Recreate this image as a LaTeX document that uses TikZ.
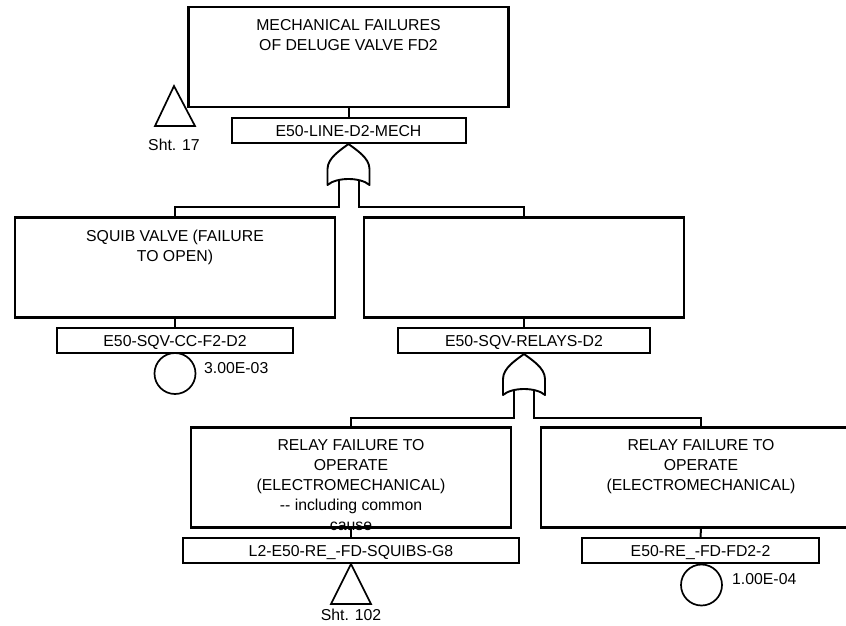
\documentclass[tikz,border=0pt]{standalone}
\usepackage{fontspec}
\setmainfont{Liberation Sans}
\usetikzlibrary{calc}
\begin{document}
\begin{tikzpicture}[x=1pt,y=-1pt,
  evbox/.style={draw,line width=2.2pt,minimum width=320pt,minimum height=100pt,inner sep=0pt},
  lbl/.style={draw,line width=2pt,minimum height=25pt,inner sep=0pt,text height=11.3pt,text depth=0pt,font=\fontsize{15.8}{20}\selectfont},
  txt/.style={align=center,inner sep=0pt,font=\fontsize{15.8}{20}\selectfont,anchor=base},
  conn/.style={line width=2pt},
  gate/.style={line width=1.9pt,line join=round},
  basic/.style={draw,circle,line width=1.7pt,minimum size=41pt,inner sep=0pt},
  xfer/.style={line width=1.7pt,line join=miter},
  prob/.style={inner sep=0pt,anchor=base west,font=\fontsize{15.8}{20}\selectfont}]
\useasboundingbox (0,0) rectangle (846,626);

% ---- top event ----
\node[evbox] (top) at (348.5,57) {};
\node[txt] (topt) at ($(top.north)+(0,45)$) {MECHANICAL FAILURES\\OF DELUGE VALVE FD2};
\node[lbl,minimum width=234pt] (topl) at (348.5,130.5) {E50-LINE-D2-MECH};
\draw[conn] (top.south) -- (topl.north);

% transfer Sht. 17
\coordinate (t1a) at (174,86);
\coordinate (t1l) at (155,126);
\coordinate (t1r) at (195,126);
\draw[xfer] (t1a) -- (t1r) -- (t1l) -- cycle;
\node[prob,anchor=base] (t1t) at (174,150) {Sht. 17};

% OR gate 1
\coordinate (g1) at (topl.south);
\begin{scope}[shift={(g1)}]
\draw[gate] (0,0) .. controls (-8,6) and (-21,14) .. (-21,25) -- (-21,41)
  .. controls (-12,33) and (12,33) .. (21,41) -- (21,25)
  .. controls (21,14) and (8,6) .. (0,0) -- cycle;
\end{scope}
\coordinate (g1l) at ($(g1)+(-10,36)$);
\coordinate (g1r) at ($(g1)+(10,36)$);
\coordinate (bus1) at (0,207);

% ---- second level ----
\node[evbox] (sq) at (175,267.5) {};
\node[txt] (sqt) at ($(sq.north)+(0,45)$) {SQUIB VALVE (FAILURE\\TO OPEN)};
\node[lbl,minimum width=236pt] (sql) at (175,340.5) {E50-SQV-CC-F2-D2};
\draw[conn] (sq.south) -- (sql.north);
\node[basic] (c1) at (175,373.5) {};
\node[prob] (c1t) at (204,373) {3.00E-03};

\node[evbox] (rb) at (524,267.5) {};
\node[lbl,minimum width=252pt] (rbl) at (524,340.5) {E50-SQV-RELAYS-D2};
\draw[conn] (rb.south) -- (rbl.north);

\draw[conn] (g1l) -- (g1l |- bus1) -| (sq.north);
\draw[conn] (g1r) -- (g1r |- bus1) -| (rb.north);

% OR gate 2
\coordinate (g2) at (rbl.south);
\begin{scope}[shift={(g2)}]
\draw[gate] (0,0) .. controls (-8,6) and (-21,14) .. (-21,25) -- (-21,41)
  .. controls (-12,33) and (12,33) .. (21,41) -- (21,25)
  .. controls (21,14) and (8,6) .. (0,0) -- cycle;
\end{scope}
\coordinate (g2l) at ($(g2)+(-10,36)$);
\coordinate (g2r) at ($(g2)+(10,36)$);
\coordinate (bus2) at (0,418);

% ---- third level ----
\node[evbox] (bl) at (351,477.5) {};
\node[txt] (blt) at ($(bl.north)+(0,104.3)$) {RELAY FAILURE TO\\OPERATE\\(ELECTROMECHANICAL)\\-{}- including common\\cause};
\node[lbl,minimum width=336pt] (bll) at (351,550.5) {L2-E50-RE\_-FD-SQUIBS-G8};
\draw[conn] (bl.south) -- (bll.north);

% transfer Sht. 102
\coordinate (t2a) at (bll.south);
\coordinate (t2l) at ($(t2a)+(-20,40)$);
\coordinate (t2r) at ($(t2a)+(20,40)$);
\draw[xfer] (t2a) -- (t2r) -- (t2l) -- cycle;
\node[prob,anchor=base] (t2t) at (351,620) {Sht. 102};

\node[evbox] (br) at (701,477.5) {};
\node[txt] (brt) at ($(br.north)+(0,64.3)$) {RELAY FAILURE TO\\OPERATE\\(ELECTROMECHANICAL)};
\node[lbl,minimum width=237pt] (brl) at (700.5,550.5) {E50-RE\_-FD-FD2-2};
\draw[conn] (br.south) -- (brl.north);
\node[basic] (c2) at (701.5,585) {};
\node[prob] (c2t) at (732,584) {1.00E-04};

\draw[conn] (g2l) -- (g2l |- bus2) -| (bl.north);
\draw[conn] (g2r) -- (g2r |- bus2) -| (br.north);
\end{tikzpicture}
\end{document}
